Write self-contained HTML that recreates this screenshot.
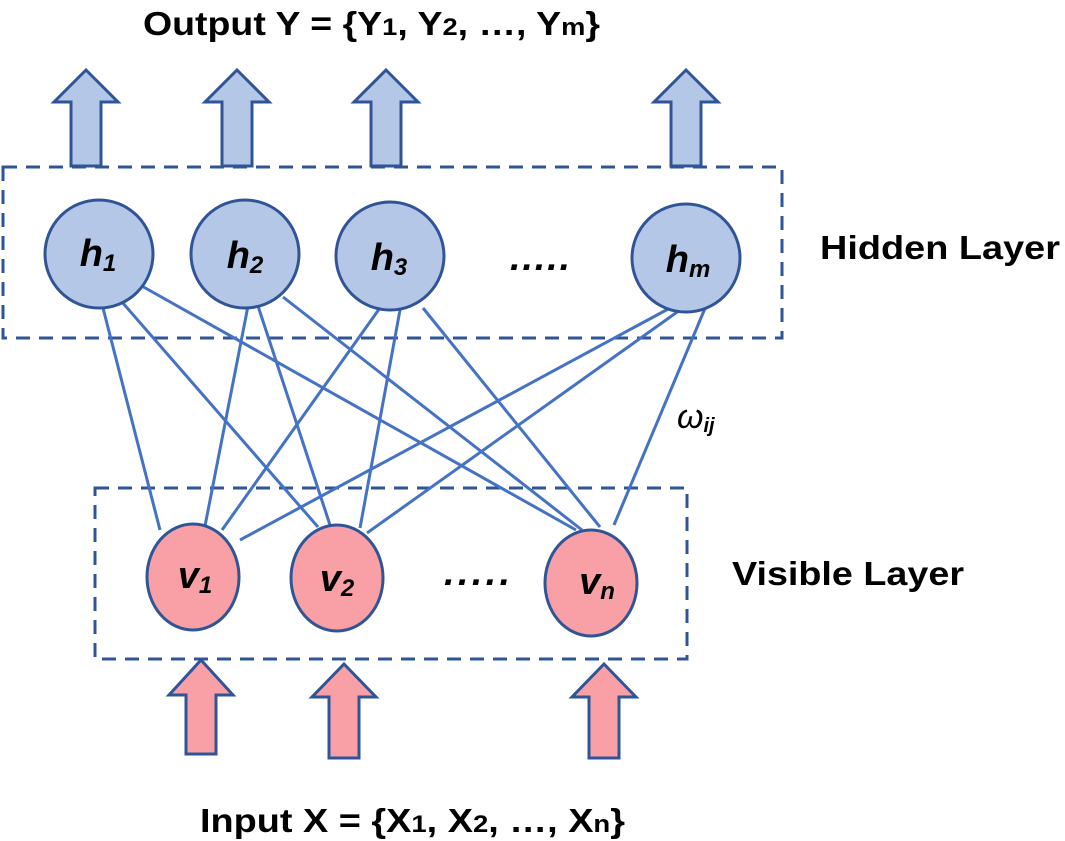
<!DOCTYPE html>
<html><head><style>
body{margin:0;background:#fff;}
svg{display:block;}
text{font-family:"Liberation Sans",sans-serif;}
</style></head><body>
<svg width="1065" height="841" viewBox="0 0 1065 841">
<g stroke="#2F5597" stroke-width="3" stroke-dasharray="14,9" fill="none">
<rect x="3" y="167" width="779" height="171"/>
<rect x="95" y="488" width="592" height="171"/>
</g>
<g stroke="#4472C4" stroke-width="3">
<line x1="103" y1="308" x2="160" y2="530"/>
<line x1="122" y1="302" x2="318" y2="527"/>
<line x1="140" y1="285" x2="576" y2="530"/>
<line x1="248" y1="306" x2="205" y2="526"/>
<line x1="258" y1="306" x2="330" y2="525"/>
<line x1="283" y1="297" x2="582" y2="530"/>
<line x1="382" y1="305" x2="222" y2="530"/>
<line x1="400" y1="310" x2="360" y2="528"/>
<line x1="423" y1="308" x2="600" y2="527"/>
<line x1="670" y1="308" x2="240" y2="540"/>
<line x1="680" y1="310" x2="367" y2="533"/>
<line x1="706" y1="306" x2="614" y2="525"/>
</g>
<g fill="#B4C7E7" stroke="#2F5597" stroke-width="3">
<polygon points="86,70 118,102 101,102 101,166 71,166 71,102 54,102"/>
<polygon points="237,70 269,102 252,102 252,166 222,166 222,102 205,102"/>
<polygon points="386,70 418,102 401,102 401,166 371,166 371,102 354,102"/>
<polygon points="686,70 718,102 701,102 701,166 671,166 671,102 654,102"/>
<circle cx="99" cy="254" r="54"/>
<circle cx="245" cy="254" r="54"/>
<circle cx="390" cy="256" r="54"/>
<circle cx="686" cy="258" r="54"/>
</g>
<g fill="#F8A0A6" stroke="#2F5597" stroke-width="3">
<ellipse cx="193" cy="577" rx="46" ry="53"/>
<ellipse cx="337" cy="578" rx="46" ry="53"/>
<ellipse cx="591" cy="583" rx="46" ry="53"/>
<polygon points="201,660 233,695 216,695 216,754 186,754 186,695 169,695"/>
<polygon points="344,664 376,697 359,697 359,758 329,758 329,697 312,697"/>
<polygon points="604,664 636,697 619,697 619,758 589,758 589,697 572,697"/>
</g>
<g font-weight="bold" font-style="italic" font-size="38" fill="#000" text-anchor="middle">
<text x="98" y="266">h<tspan font-size="24" dy="5">1</tspan></text>
<text x="245" y="268">h<tspan font-size="24" dy="5">2</tspan></text>
<text x="389" y="270">h<tspan font-size="24" dy="5">3</tspan></text>
<text x="688" y="272">h<tspan font-size="24" dy="5">m</tspan></text>
<text x="195" y="588">v<tspan font-size="24" dy="5">1</tspan></text>
<text x="337" y="591">v<tspan font-size="24" dy="5">2</tspan></text>
<text x="597" y="594">v<tspan font-size="24" dy="5">n</tspan></text>
<text x="540" y="270" textLength="60" lengthAdjust="spacing">.....</text>
<text x="477" y="585" textLength="66" lengthAdjust="spacing">.....</text>
</g>
<text x="677" y="428" font-family="Liberation Serif" font-style="italic" font-size="34">ω<tspan font-size="20" dy="4" font-family="Liberation Sans" font-weight="bold">ij</tspan></text>
<g font-weight="bold" font-size="33" fill="#000">
<text x="143" y="35" textLength="457" lengthAdjust="spacingAndGlyphs">Output Y = {Y<tspan font-size="24">1</tspan>, Y<tspan font-size="24">2</tspan>, …, Y<tspan font-size="24">m</tspan>}</text>
<text x="820" y="259" textLength="240" lengthAdjust="spacingAndGlyphs">Hidden Layer</text>
<text x="732" y="585" textLength="232" lengthAdjust="spacingAndGlyphs">Visible Layer</text>
<text x="200" y="832" textLength="425" lengthAdjust="spacingAndGlyphs">Input X = {X<tspan font-size="24">1</tspan>, X<tspan font-size="24">2</tspan>, …, X<tspan font-size="24">n</tspan>}</text>
</g>
</svg>
</body></html>
